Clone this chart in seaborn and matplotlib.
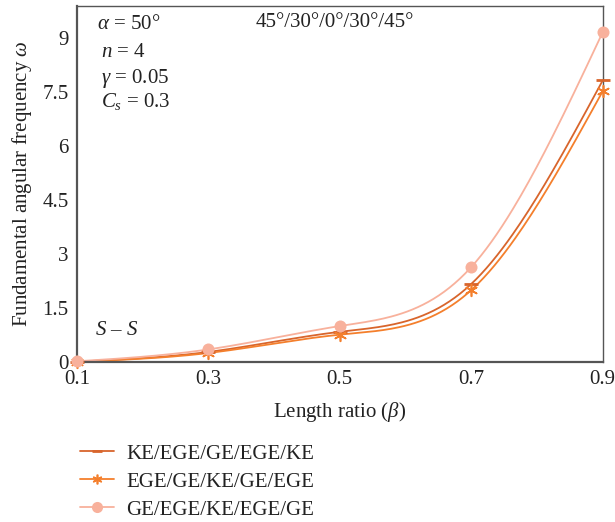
import numpy as np
import pandas as pd
import matplotlib
matplotlib.use("Agg")
import matplotlib.pyplot as plt
import seaborn as sns
from matplotlib.lines import Line2D

# data
beta = [0.1, 0.3, 0.5, 0.7, 0.9]
ke_ege = [0.01, 0.28, 0.84, 2.17, 7.83]
ege_ge = [0.01, 0.25, 0.76, 2.0, 7.53]
ge_ege = [0.02, 0.35, 1.0, 2.64, 9.17]
names = ["KE/EGE/GE/EGE/KE", "EGE/GE/KE/GE/EGE", "GE/EGE/KE/EGE/GE"]
colors = ["#d8652c", "#f47f2c", "#f8b19c"]
markers = ["_", (6, 2, 0), "o"]
msizes = [90, 70, 75]
medge = [2.0, 1.2, 0]

yticks = [0, 1.5, 3, 4.5, 6, 7.5, 9]
ytick_labels = ["0", "1.5", "3", "4.5", "6", "7.5", "9"]

df = pd.DataFrame({"beta": beta * 3,
                   "omega": ke_ege + ege_ge + ge_ege,
                   "case": sum([[n] * len(beta) for n in names], [])})


def natural_spline(x, y, num=200):
    # natural cubic spline for the smooth connecting curve
    x = np.asarray(x, float); y = np.asarray(y, float)
    n = len(x)
    h = np.diff(x)
    A = np.zeros((n, n)); r = np.zeros(n)
    A[0, 0] = A[-1, -1] = 1
    for i in range(1, n - 1):
        A[i, i - 1] = h[i - 1]; A[i, i] = 2 * (h[i - 1] + h[i]); A[i, i + 1] = h[i]
        r[i] = 6 * ((y[i + 1] - y[i]) / h[i] - (y[i] - y[i - 1]) / h[i - 1])
    M = np.linalg.solve(A, r)
    xs = np.linspace(x[0], x[-1], num)
    idx = np.clip(np.searchsorted(x, xs) - 1, 0, n - 2)
    t0 = x[idx + 1] - xs; t1 = xs - x[idx]; hh = h[idx]
    ys = (M[idx] * t0 ** 3 + M[idx + 1] * t1 ** 3) / (6 * hh) \
        + (y[idx] / hh - M[idx] * hh / 6) * t0 + (y[idx + 1] / hh - M[idx + 1] * hh / 6) * t1
    return xs, ys


sns.set_style("white")
plt.rcParams["font.family"] = ["Liberation Serif", "DejaVu Serif"]
plt.rcParams["mathtext.fontset"] = "custom"
plt.rcParams["mathtext.rm"] = "Liberation Serif"
plt.rcParams["mathtext.it"] = "Liberation Serif:italic"

fig = plt.figure(figsize=(6.15, 5.22), dpi=100)
ax = fig.add_axes([0.125, 0.3065, 0.855, 0.682])

for name, c, m, s, ew in zip(names, colors, markers, msizes, medge):
    sub = df[df["case"] == name]
    xs, ys = natural_spline(sub["beta"], sub["omega"])
    ax.plot(xs, ys, color=c, lw=1.3, zorder=2)
    sns.scatterplot(data=sub, x="beta", y="omega", ax=ax, color=c, marker=m,
                    s=s, linewidth=ew, edgecolor=c, zorder=3,
                    legend=False, clip_on=False)

ax.set_xlim(0.1, 0.9)
ax.set_ylim(0, 9.9)
ax.set_xticks(beta)
ax.set_xticklabels(["0.1", "0.3", "0.5", "0.7", "0.9"])
ax.set_yticks(yticks)
ax.set_yticklabels(ytick_labels)
ax.tick_params(labelsize=15, length=0, pad=6, colors="#222222")
for side in ["left", "bottom"]:
    ax.spines[side].set_color("#555555"); ax.spines[side].set_linewidth(1.6)
for side in ["top", "right"]:
    ax.spines[side].set_color("#555555"); ax.spines[side].set_linewidth(1.0)

ax.set_xlabel(r"Length ratio ($\beta$)", fontsize=15, labelpad=8, color="#222222")
ax.set_ylabel(r"Fundamental angular frequency $\omega$", fontsize=15, labelpad=6,
              color="#222222")

txt = dict(fontsize=15, color="#222222", transform=ax.transAxes)
ax.text(0.038, 0.935, r"$\alpha$ = 50°", **txt)
ax.text(0.045, 0.858, r"$n$ = 4", **txt)
ax.text(0.045, 0.785, r"$\gamma$ = 0.05", **txt)
ax.text(0.045, 0.715, r"$C_s$ = 0.3", **txt)
ax.text(0.49, 0.94, "45°/30°/0°/30°/45°", ha="center", **txt)
ax.text(0.035, 0.075, r"$S$ – $S$", **txt)

handles = [Line2D([0], [0], color=c, lw=1.3, marker=m, markersize=ms,
                  markeredgewidth=ew, markeredgecolor=c)
           for c, m, ms, ew in zip(colors, markers, [7, 7, 8], medge)]
fig.legend(handles, names, loc="upper left", bbox_to_anchor=(0.1, 0.185),
           frameon=False, fontsize=15, handlelength=1.6, handletextpad=0.6,
           labelspacing=0.4, labelcolor="#222222")

fig.savefig("out.png", dpi=100)
